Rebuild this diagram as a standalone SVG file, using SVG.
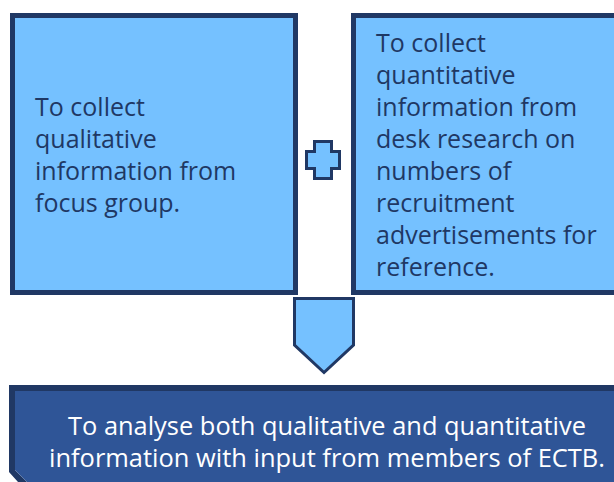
<svg xmlns="http://www.w3.org/2000/svg" width="614" height="482" viewBox="0 0 614 482">
  <style>
    .box { fill: #75C1FF; stroke: #203864; stroke-width: 5; }
    .sym { fill: #75C1FF; stroke: #203864; stroke-width: 3; stroke-linejoin: miter; }
    .txt { font-family: "Open Sans", "Liberation Sans", sans-serif; font-size: 25px; fill: #1F3864; }
    .wtxt { font-family: "Open Sans", "Liberation Sans", sans-serif; font-size: 25.5px; fill: #FFFFFF; }
  </style>
  <rect width="614" height="482" fill="#FFFFFF"/>

  <!-- left task box -->
  <g id="focus-group">
    <rect class="box" x="12.5" y="15.5" width="283" height="277"/>
    <text class="txt">
      <tspan x="35" y="116">To collect</tspan>
      <tspan x="35" y="148">qualitative</tspan>
      <tspan x="35" y="180">information from</tspan>
      <tspan x="35" y="212">focus group.</tspan>
    </text>
  </g>

  <!-- right task box -->
  <g id="desk-research">
    <rect class="box" x="353.5" y="15.5" width="275" height="277"/>
    <text class="txt">
      <tspan x="376" y="52">To collect</tspan>
      <tspan x="376" y="84">quantitative</tspan>
      <tspan x="376" y="116">information from</tspan>
      <tspan x="376" y="148">desk research on</tspan>
      <tspan x="376" y="180">numbers of</tspan>
      <tspan x="376" y="212">recruitment</tspan>
      <tspan x="376" y="244">advertisements for</tspan>
      <tspan x="376" y="276">reference.</tspan>
    </text>
  </g>

  <!-- plus sign and down arrow -->
  <g id="connectors">
    <path class="sym" d="M314.5,141.5 H331.5 V151.5 H339.5 V168.5 H331.5 V178.5 H314.5 V168.5 H306.5 V151.5 H314.5 Z"/>
    <path class="sym" d="M294.5,298.5 H353.5 V345 L324,372.5 L294.5,345 Z"/>
  </g>

  <!-- analysis box -->
  <g id="analysis">
    <path d="M9,385 H614 V391 H15 V470 L27,482 H18 L9,472 Z" fill="#203864"/>
    <path d="M15,391 H614 V482 H27 L15,470 Z" fill="#2F5597"/>
    <text class="wtxt" x="68" y="435" textLength="518" lengthAdjust="spacingAndGlyphs">To analyse both qualitative and quantitative</text>
    <text class="wtxt" x="49" y="467" textLength="556" lengthAdjust="spacingAndGlyphs">information with input from members of ECTB.</text>
  </g>
</svg>
